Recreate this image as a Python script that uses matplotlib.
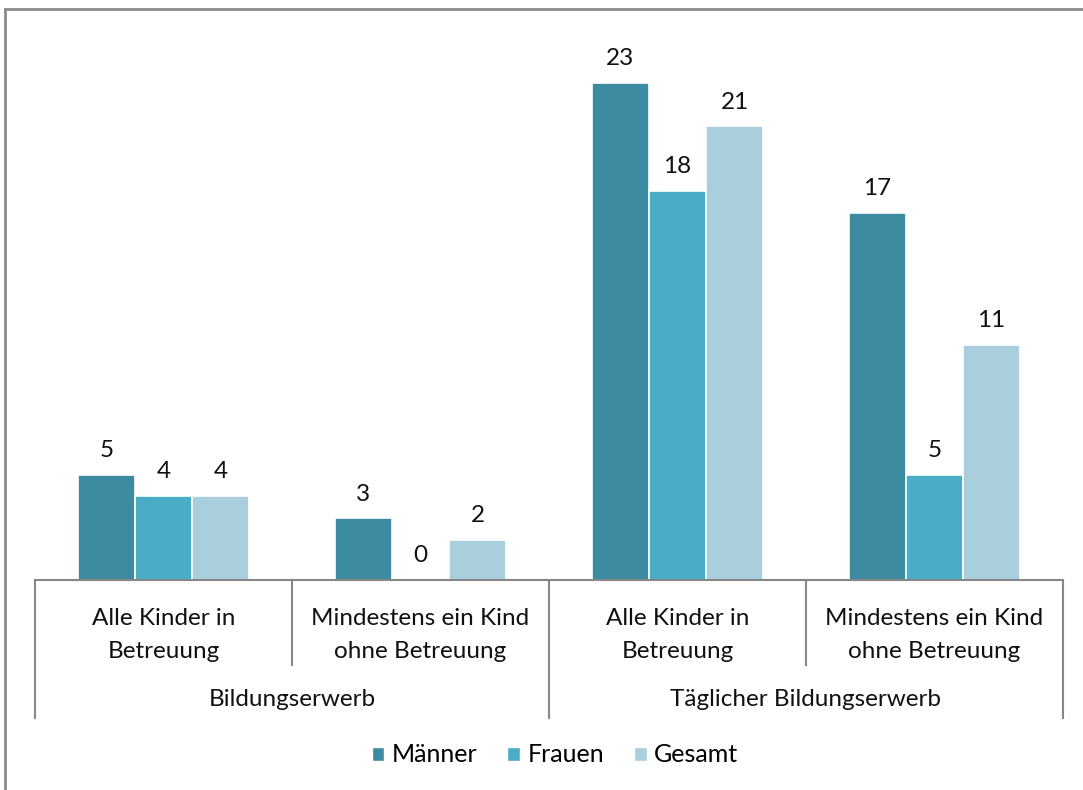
import matplotlib
matplotlib.use("Agg")
import matplotlib.pyplot as plt
from matplotlib.lines import Line2D
from matplotlib.patches import Patch
from matplotlib.transforms import blended_transform_factory

plt.rcParams['font.family'] = ['Lato', 'DejaVu Sans']

categories = ["Alle Kinder in\nBetreuung", "Mindestens ein Kind\nohne Betreuung",
              "Alle Kinder in\nBetreuung", "Mindestens ein Kind\nohne Betreuung"]
groups = ["Bildungserwerb", "Täglicher Bildungserwerb"]
series = ["Männer", "Frauen", "Gesamt"]
maenner = [4.86, 2.85, 23.0, 17.0]
frauen = [3.9, 0.0, 18.0, 4.86]
gesamt = [3.9, 1.85, 21.0, 10.9]
colors = ["#3D8BA1", "#4BACC6", "#A9CFDD"]

W, H = 1083, 790
fig = plt.figure(figsize=(W / 100, H / 100), dpi=100)
ax = fig.add_axes([35 / W, 210 / H, (1063 - 35) / W, 540 / H])
ax.set_xlim(-0.5, 3.5)
ax.set_ylim(0, 25)
ax.axis('off')

FS = 17.5
bw = 0.222
data = [maenner, frauen, gesamt]
xs = list(range(len(categories)))
for i, (vals, col) in enumerate(zip(data, colors)):
    pos = [x + (i - 1) * bw for x in xs]
    bars = ax.bar(pos, vals, width=bw, color=col, edgecolor='white', linewidth=1.2, label=series[i])
    for b, v in zip(bars, vals):
        ax.annotate(f"{v:.0f}", (b.get_x() + b.get_width() / 2, v), xytext=(0, 10),
                    textcoords='offset points', ha='center', va='bottom', fontsize=FS, color='#111111')

tr = blended_transform_factory(ax.transData, fig.transFigure)
gray = '#878787'
ybase = 210 / H
ax.add_line(Line2D([-0.5, 3.5], [ybase, ybase], transform=tr, color=gray, lw=1.5, clip_on=False))
for x, yend in [(-0.5, 72), (0.5, 125), (1.5, 72), (2.5, 125), (3.5, 72)]:
    ax.add_line(Line2D([x, x], [ybase, yend / H], transform=tr, color=gray, lw=1.5, clip_on=False))
for x, lab in zip(xs, categories):
    ax.text(x, 155 / H, lab, transform=tr, ha='center', va='center', fontsize=FS,
            linespacing=1.7, color='#111111')
for x, lab in zip([0.5, 2.5], groups):
    ax.text(x, 90 / H, lab, transform=tr, ha='center', va='center', fontsize=FS, color='#111111')

handles = [Patch(facecolor=c, edgecolor='white', label=s) for c, s in zip(colors, series)]
fig.legend(handles=handles, loc='center', bbox_to_anchor=(555 / W, 35 / H), ncol=3, frameon=False,
           fontsize=18, handlelength=0.5, handleheight=0.5, handletextpad=0.3, columnspacing=1.2)

fig.add_artist(Line2D([5 / W, 1], [1 - 9 / H, 1 - 9 / H], transform=fig.transFigure, color='#8c8c8c', lw=2))
fig.add_artist(Line2D([5 / W, 5 / W], [0, 1 - 9 / H], transform=fig.transFigure, color='#8c8c8c', lw=2))

fig.savefig("out.png", dpi=100, facecolor='white')
